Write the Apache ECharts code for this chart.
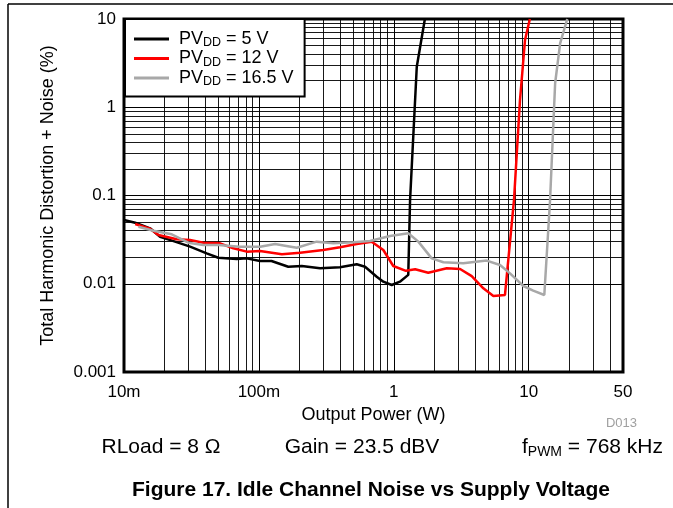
<!DOCTYPE html>
<html>
<head>
<meta charset="utf-8">
<script src="https://cdn.jsdelivr.net/npm/echarts@6/dist/echarts.min.js"></script>
<style>
html,body{margin:0;padding:0;background:#fff;}
#c{width:673px;height:508px;}
</style>
</head>
<body>
<div id="c"></div>
<script>
// ---- data (Output Power W, THD+N %) ----
const seriesNames = ['PV_DD = 5 V', 'PV_DD = 12 V', 'PV_DD = 16.5 V'];
const legendSuffix = [' = 5 V', ' = 12 V', ' = 16.5 V'];
const pvdd5V = [
  [0.0100,0.0528],[0.0121,0.0492],[0.0156,0.0425],[0.0185,0.0341],[0.0239,0.0300],
  [0.0309,0.0263],[0.0410,0.0221],[0.0500,0.0197],[0.0685,0.0191],[0.0812,0.0194],
  [0.102,0.0181],[0.124,0.0181],[0.165,0.0156],[0.208,0.0159],[0.284,0.0150],
  [0.399,0.0154],[0.531,0.0166],[0.612,0.0156],[0.747,0.0120],[0.836,0.01055],
  [0.965,0.00968],[1.11,0.01055],[1.28,0.0126],[1.32,0.089],[1.48,2.88],[1.70,10]
];
const pvdd12V = [
  [0.0121,0.0475],[0.0156,0.0420],[0.0180,0.0357],[0.0246,0.0319],[0.0309,0.0313],
  [0.0387,0.0292],[0.0515,0.0287],[0.0646,0.0252],[0.0812,0.0231],[0.102,0.0235],
  [0.148,0.0216],[0.202,0.0225],[0.300,0.0241],[0.399,0.0259],[0.531,0.0282],
  [0.686,0.0300],[0.836,0.0241],[0.991,0.0159],[1.23,0.0140],[1.44,0.0146],
  [1.80,0.0133],[2.47,0.0150],[3.10,0.0147],[3.78,0.0122],[4.61,0.00888],
  [5.47,0.00726],[6.67,0.00746],[7.78,0.089],[8.62,1.21],[9.39,5.78],[10.2,10]
];
const pvdd16V5 = [
  [0.0128,0.0443],[0.0165,0.0399],[0.0226,0.0363],[0.0300,0.0292],[0.0387,0.0275],
  [0.0500,0.0275],[0.0724,0.0263],[0.102,0.0263],[0.132,0.0282],[0.156,0.0270],
  [0.191,0.0256],[0.268,0.0300],[0.356,0.0287],[0.501,0.0295],[0.666,0.0305],
  [0.937,0.0348],[1.28,0.0373],[1.52,0.0300],[1.91,0.0194],[2.33,0.0175],
  [3.27,0.0171],[4.88,0.0183],[6.13,0.0163],[7.27,0.0131],[9.12,0.00943],
  [10.8,0.00834],[13.05,0.00746],[14.4,0.089],[15.7,1.87],[17.1,5.3],[19.3,10]
];
// axis ticks
const xMin = 0.01, xMax = 50, yMin = 0.001, yMax = 10;
const xMinorGrid = [0.02,0.03,0.04,0.05,0.06,0.07,0.08,0.09,0.2,0.3,0.4,0.5,0.6,0.7,0.8,0.9,
  2,3,4,5,6,7,8,9,20,30,40];
const yMinorGrid = [0.002,0.003,0.004,0.005,0.006,0.007,0.008,0.009,0.02,0.03,0.04,0.05,0.06,0.07,0.08,0.09,
  0.2,0.3,0.4,0.5,0.6,0.7,0.8,0.9,2,3,4,5,6,7,8,9];
const colors = ['#000000', '#ff0000', '#a8a8a8'];
const FONT = 'Liberation Sans, Arial, sans-serif';

const chart = echarts.init(document.getElementById('c'), null, {renderer: 'canvas'});

function xLabel(v) {
  const r = parseFloat(Number(v).toPrecision(3));
  if (r < 1) return Math.round(r * 1000) + 'm';
  return String(Math.round(r));
}
function yLabel(v) {
  return String(parseFloat(Number(v).toPrecision(3)));
}

const curveData = [pvdd5V, pvdd12V, pvdd16V5];
const curves = curveData.map((d, i) => ({
  name: seriesNames[i],
  type: 'line',
  data: d,
  symbol: 'none',
  smooth: false,
  clip: true,
  z: 5,
  lineStyle: {color: colors[i], width: 2.5},
  itemStyle: {color: colors[i]},
  animation: false
}));

const minorLineStyle = {color: '#000', width: 1, type: 'solid', opacity: 0.9};

const option = {
  backgroundColor: '#fff',
  animation: false,
  textStyle: {fontFamily: FONT},
  grid: {
    left: 124, top: 19, width: 499, height: 353,
    show: true, borderColor: '#000', borderWidth: 3, backgroundColor: 'transparent'
  },
  legend: {
    data: seriesNames,
    orient: 'vertical',
    left: 125, top: 19,
    padding: [11, 11, 8, 9],
    itemGap: 0,
    icon: 'rect',
    itemWidth: 35, itemHeight: 3,
    backgroundColor: '#fff',
    borderColor: '#000', borderWidth: 2,
    borderRadius: 0,
    z: 10,
    formatter: function (name) {
      const i = seriesNames.indexOf(name);
      return '{g|}{a|PV}{s|DD}{a|' + legendSuffix[i] + '}';
    },
    textStyle: {
      fontFamily: FONT, color: '#000',
      rich: {
        g: {width: 5},
        a: {fontSize: 18, lineHeight: 21, fontFamily: FONT, color: '#000'},
        s: {fontSize: 12.5, lineHeight: 12, verticalAlign: 'bottom', fontFamily: FONT, color: '#000'}
      }
    }
  },
  xAxis: {
    type: 'log', logBase: 10, min: xMin, max: xMax,
    name: 'Output Power (W)', nameLocation: 'middle', nameGap: 31,
    nameTextStyle: {fontSize: 18, color: '#000', fontFamily: FONT},
    axisLine: {show: false},
    axisTick: {show: false},
    axisLabel: {fontSize: 17, color: '#000', margin: 12, formatter: xLabel, fontFamily: FONT,
      showMinLabel: true, showMaxLabel: true},
    splitLine: {show: true, lineStyle: {color: '#000', width: 1}},
    minorTick: {show: false}, minorSplitLine: {show: false}
  },
  yAxis: {
    type: 'log', logBase: 10, min: yMin, max: yMax,
    name: 'Total Harmonic Distortion + Noise (%)', nameLocation: 'middle', nameGap: 67,
    nameRotate: 90,
    nameTextStyle: {fontSize: 18, color: '#000', fontFamily: FONT},
    axisLine: {show: false},
    axisTick: {show: false},
    axisLabel: {fontSize: 17, color: '#000', margin: 8, formatter: yLabel, fontFamily: FONT},
    splitLine: {show: true, lineStyle: {color: '#000', width: 1}}
  },
  series: [
    {
      name: 'minor-grid', type: 'line', data: [], symbol: 'none', silent: true, z: 1,
      markLine: {
        silent: true, symbol: ['none', 'none'], animation: false,
        label: {show: false},
        lineStyle: minorLineStyle,
        emphasis: {disabled: true},
        data: xMinorGrid.map(v => ({xAxis: v})).concat(yMinorGrid.map(v => ({yAxis: v})))
      }
    }
  ].concat(curves),
  graphic: [
    {type: 'line', shape: {x1: 8, y1: 4, x2: 673, y2: 4}, style: {stroke: '#000', lineWidth: 1.5}},
    {type: 'line', shape: {x1: 8, y1: 4, x2: 8, y2: 508}, style: {stroke: '#000', lineWidth: 1.5}},
    {type: 'text', x: 637, y: 423, style: {text: 'D013', fontSize: 13, fill: '#a0a0a0', fontFamily: FONT,
      align: 'right', verticalAlign: 'middle'}},
    {type: 'text', x: 161, y: 447, style: {text: 'RLoad = 8 Ω', fontSize: 21, fill: '#000', fontFamily: FONT,
      align: 'center', verticalAlign: 'middle'}},
    {type: 'text', x: 362, y: 447, style: {text: 'Gain = 23.5 dBV', fontSize: 21, fill: '#000', fontFamily: FONT,
      align: 'center', verticalAlign: 'middle'}},
    {type: 'text', x: 663, y: 447, style: {
      text: '{a|f}{s|PWM}{a| = 768 kHz}', align: 'right', verticalAlign: 'middle', fontFamily: FONT,
      rich: {
        a: {fontSize: 21, lineHeight: 25, fill: '#000', fontFamily: FONT},
        s: {fontSize: 14, lineHeight: 14, verticalAlign: 'bottom', fill: '#000', fontFamily: FONT}
      }}},
    {type: 'text', x: 371, y: 490, style: {text: 'Figure 17. Idle Channel Noise vs Supply Voltage',
      fontSize: 21, fontWeight: 'bold', fill: '#000', fontFamily: FONT, align: 'center', verticalAlign: 'middle'}}
  ]
};
chart.setOption(option);
</script>
</body>
</html>
